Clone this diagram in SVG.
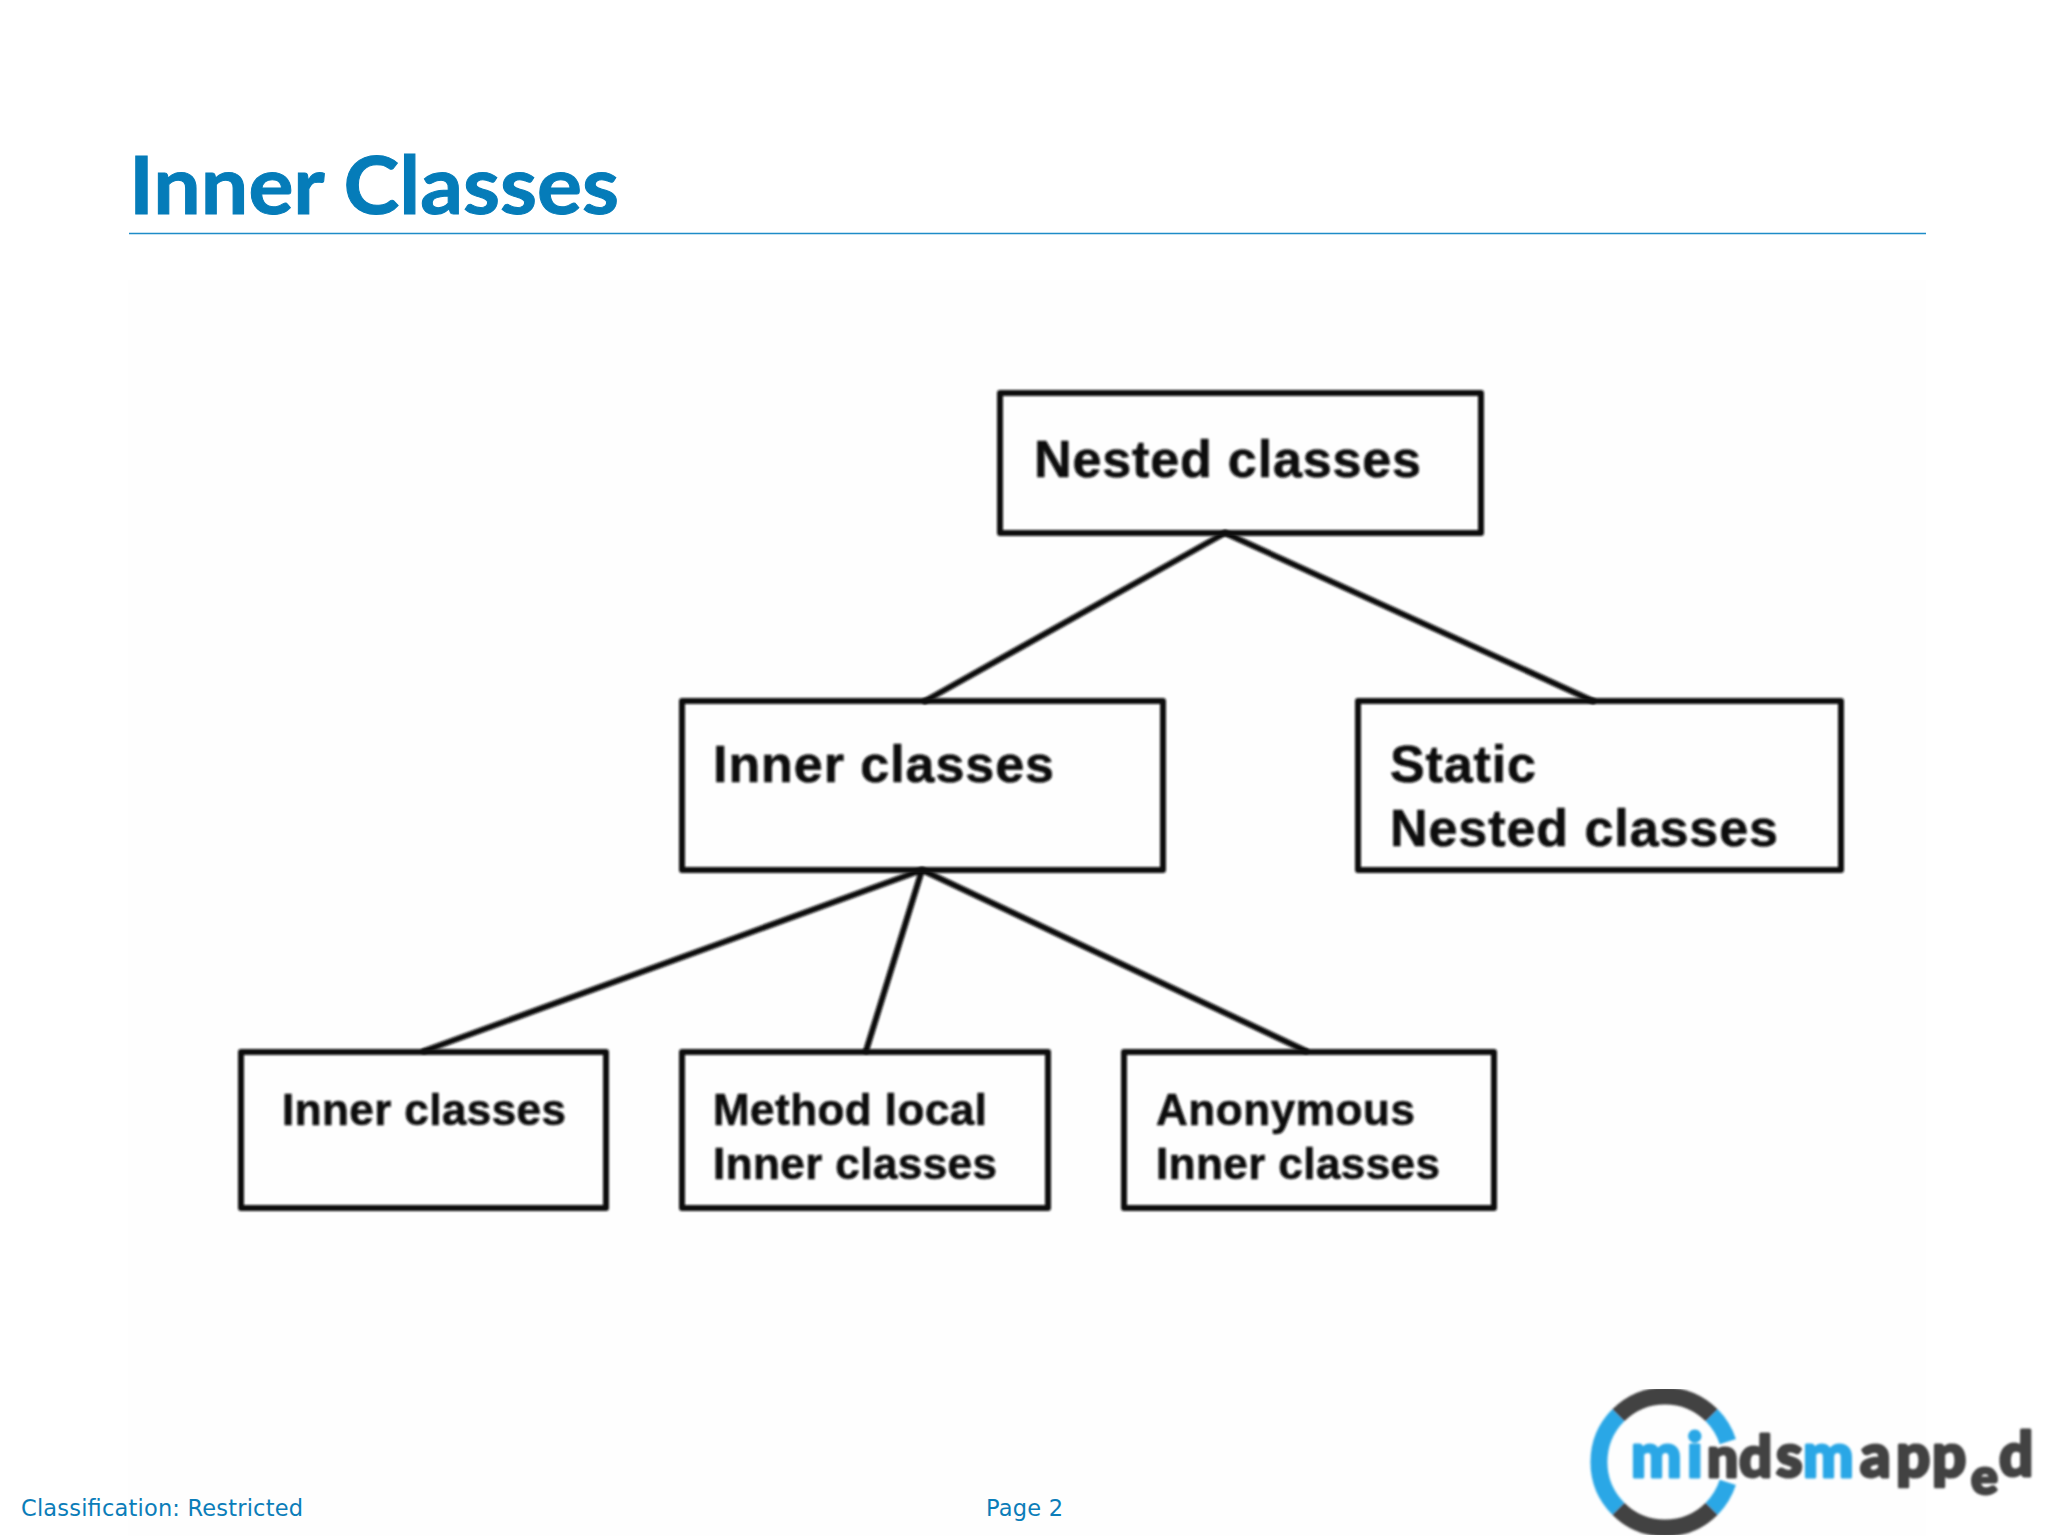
<svg xmlns="http://www.w3.org/2000/svg" width="2048" height="1536" viewBox="0 0 2048 1536">
<defs>
<filter id="soft" x="-5%" y="-5%" width="110%" height="110%"><feGaussianBlur stdDeviation="0.8"/></filter>
</defs>
<style>
.pic{filter:url(#soft)}
.box{fill:none;stroke:#0c0c0c;stroke-width:6;stroke-linejoin:round}
.ln{fill:none;stroke:#0c0c0c;stroke-width:6;stroke-linecap:round}
.t{font-family:"Liberation Sans",Arial,sans-serif;font-weight:700;fill:#0c0c0c;stroke:#0c0c0c;stroke-width:.6}
.big{font-size:52px}
.small{font-size:44px}
.foot{font-family:"DejaVu Sans",Verdana,sans-serif;font-size:22.5px;fill:#0b7db9}
.logo{font-family:Lato,"Open Sans",sans-serif;font-weight:900;font-size:60px;stroke-width:3;stroke-linejoin:round}
.dk{fill:#434343;stroke:#434343}
.bl{fill:#2aa7e6;stroke:#2aa7e6}
.ring{fill:none;stroke-width:17}
</style>
<rect width="2048" height="1536" fill="#ffffff"/>
<rect x="128" y="280" width="1798" height="1256" fill="#fefefe"/>
<g id="header">
<text x="129" y="214" font-family="Lato,Carlito,sans-serif" font-weight="700" font-size="80" fill="#057cb9" stroke="#057cb9" stroke-width="1" textLength="490" lengthAdjust="spacingAndGlyphs">Inner Classes</text>
<line x1="129" y1="233.500" x2="1926" y2="233.500" stroke="#1e8cc8" stroke-width="1.500"/>
</g>
<g id="connectors" class="pic">
<line class="ln" x1="1225" y1="533" x2="925" y2="701"/>
<line class="ln" x1="1225" y1="533" x2="1593" y2="701"/>
<line class="ln" x1="922" y1="870" x2="424" y2="1051"/>
<line class="ln" x1="922" y1="870" x2="866" y2="1051"/>
<line class="ln" x1="922" y1="870" x2="1306" y2="1051"/>
</g>
<g id="node-nested" class="pic">
<rect class="box" x="1000" y="393" width="481" height="140"/>
<text class="t big" x="1034" y="477" textLength="387">Nested classes</text>
</g>
<g id="node-inner" class="pic">
<rect class="box" x="682" y="701" width="481" height="169"/>
<text class="t big" x="713" y="782" textLength="341">Inner classes</text>
</g>
<g id="node-static" class="pic">
<rect class="box" x="1358" y="701" width="483" height="169"/>
<text class="t big" x="1390" y="782" textLength="146">Static</text>
<text class="t big" x="1390" y="846" textLength="388">Nested classes</text>
</g>
<g id="node-inner-leaf" class="pic">
<rect class="box" x="241" y="1052" width="365" height="156"/>
<text class="t small" x="282" y="1125" textLength="284">Inner classes</text>
</g>
<g id="node-method" class="pic">
<rect class="box" x="682" y="1052" width="366" height="156"/>
<text class="t small" x="713" y="1125" textLength="274">Method local</text>
<text class="t small" x="713" y="1179" textLength="284">Inner classes</text>
</g>
<g id="node-anon" class="pic">
<rect class="box" x="1124" y="1052" width="370" height="156"/>
<text class="t small" x="1156" y="1125" textLength="259">Anonymous</text>
<text class="t small" x="1156" y="1179" textLength="284">Inner classes</text>
</g>
<g id="footer">
<text class="foot" x="21" y="1516" textLength="282">Classification: Restricted</text>
<text class="foot" x="986" y="1516" textLength="77">Page 2</text>
</g>
<g id="logo" class="pic">
<path class="ring" stroke="#2aa7e6" d="M1618.300 1415.300A66 66 0 0 0 1618.300 1508.700"/>
<path class="ring" stroke="#2aa7e6" d="M1711.700 1415.300A66 66 0 0 1 1727.800 1441.600"/>
<path class="ring" stroke="#2aa7e6" d="M1711.700 1508.700A66 66 0 0 0 1727.800 1482.400"/>
<path class="ring" stroke="#434343" d="M1618.300 1415.300A66 66 0 0 1 1711.700 1415.300"/>
<path class="ring" stroke="#434343" d="M1618.300 1508.700A66 66 0 0 0 1711.700 1508.700"/>
<text class="logo" y="1477"><tspan class="bl" x="1631">m</tspan><tspan class="bl" x="1687">i</tspan><tspan class="dk" x="1707" font-size="55">n</tspan><tspan class="dk" x="1739" font-size="58">d</tspan><tspan class="dk" x="1776">s</tspan><tspan class="bl" x="1803">m</tspan><tspan class="dk" x="1860">a</tspan><tspan class="dk" x="1896">p</tspan><tspan class="dk" x="1932">p</tspan><tspan class="dk" x="1971" y="1494" font-size="50">e</tspan><tspan class="dk" x="1999" y="1476">d</tspan></text>
</g>
</svg>
